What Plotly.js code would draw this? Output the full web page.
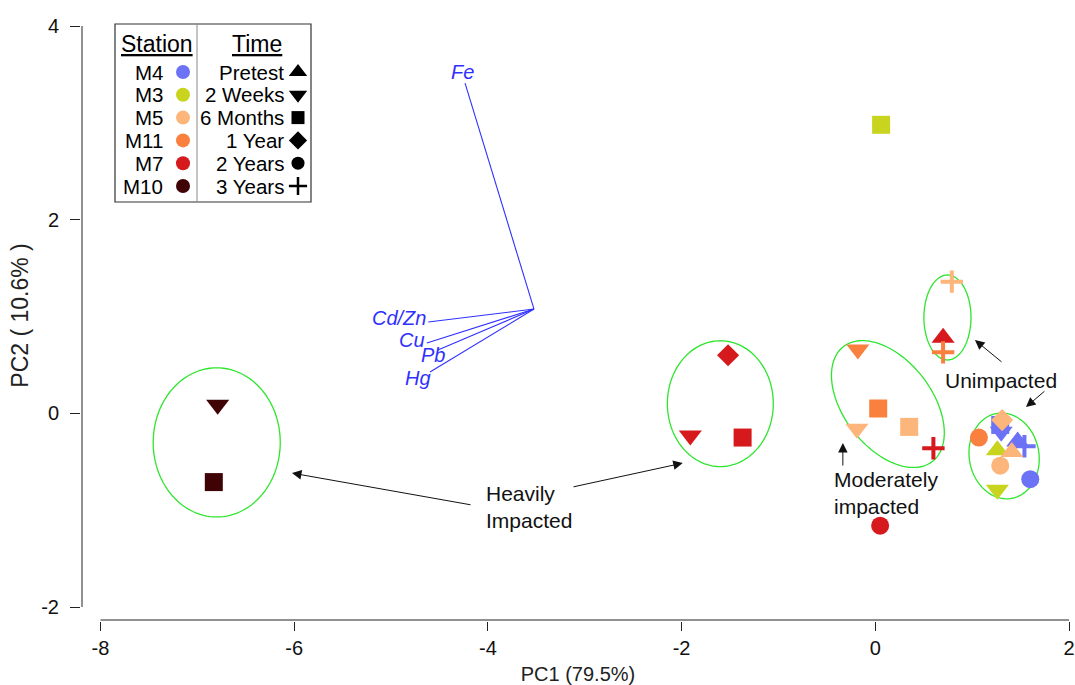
<!DOCTYPE html>
<html><head><meta charset="utf-8">
<script src="https://cdn.plot.ly/plotly-3.0.1.min.js"></script>
<style>html,body{margin:0;padding:0;background:#fff;}#chart{width:1075px;height:685px;}</style>
</head><body><div id="chart"></div>
<script>
// ---------------- data ----------------
const stations = ['M4','M3','M5','M11','M7','M10'];
const stationColors = ['#6b72f5','#c8d41e','#fcb57a','#f9803f','#d6191c','#3f0306'];
const times = ['Pretest','2 Weeks','6 Months','1 Year','2 Years','3 Years'];
const timeSymbols = ['triangle-up','triangle-down','square','diamond','circle','cross-thin'];

const m4Time = ['Pretest','2 Weeks','6 Months','2 Years','3 Years'];
const m4PC1 = [1.47, 1.30, 1.29, 1.60, 1.54];
const m4PC2 = [-0.29, -0.19, -0.12, -0.68, -0.34];

const m3Time = ['Pretest','2 Weeks','6 Months'];
const m3PC1 = [1.26, 1.26, 0.06];
const m3PC2 = [-0.38, -0.79, 2.98];

const m5Time = ['Pretest','2 Weeks','6 Months','1 Year','2 Years','3 Years'];
const m5PC1 = [1.41, -0.19, 0.35, 1.31, 1.29, 0.79];
const m5PC2 = [-0.40, -0.16, -0.14, -0.07, -0.54, 1.36];

const m11Time = ['2 Weeks','6 Months','2 Years','3 Years'];
const m11PC1 = [-0.18, 0.03, 1.07, 0.70];
const m11PC2 = [0.66, 0.05, -0.25, 0.63];

const m7Time = ['Pretest','2 Weeks','6 Months','1 Year','2 Years','3 Years'];
const m7PC1 = [0.70, -1.91, -1.37, -1.52, 0.05, 0.60];
const m7PC2 = [0.78, -0.23, -0.25, 0.60, -1.16, -0.36];

const m10Time = ['2 Weeks','6 Months'];
const m10PC1 = [-6.79, -6.83];
const m10PC2 = [0.09, -0.71];

// biplot loadings (vector end points) and origin
const loadingNames = ['Fe','Cd/Zn','Cu','Pb','Hg'];
const loadingPC1 = [-4.236, -4.615, -4.63, -4.516, -4.598];
const loadingPC2 = [3.41, 0.943, 0.726, 0.654, 0.427];
const biplotOrigin = [-3.524, 1.077];

// group ellipses
const ellipseCx = [-6.80, -1.60, 0.13, 0.745, 1.33];
const ellipseCy = [-0.30, 0.10, 0.096, 0.99, -0.44];
const ellipseRx = [0.656, 0.547, 0.75, 0.243, 0.36];
const ellipseRy = [0.77, 0.65, 0.454, 0.439, 0.445];
const ellipseAng = [0, 0, -52.3, 0, 10];

const xTicks = [-8, -6, -4, -2, 0, 2];
const yTicks = [-2, 0, 2, 4];

// ---------------- build ----------------
const FONT = 'Arial, "Liberation Sans", sans-serif';
const stationData = {
  M4: [m4Time, m4PC1, m4PC2], M3: [m3Time, m3PC1, m3PC2], M5: [m5Time, m5PC1, m5PC2],
  M11: [m11Time, m11PC1, m11PC2], M7: [m7Time, m7PC1, m7PC2], M10: [m10Time, m10PC1, m10PC2]
};
const symSize = {'triangle-up':20,'triangle-down':20,'square':18,'diamond':17,'circle':18,'cross-thin':16};
const drawOrder = ['M4','M3','M5','M7','M11','M10'];

const traces = [];
// biplot vectors
const vx = [], vy = [];
loadingNames.forEach((n, i) => { vx.push(biplotOrigin[0], loadingPC1[i], null); vy.push(biplotOrigin[1], loadingPC2[i], null); });
traces.push({x: vx, y: vy, mode: 'lines', line: {color: '#3030ff', width: 1.1}, hoverinfo: 'skip', showlegend: false});

drawOrder.forEach(st => {
  const [t, px, py] = stationData[st];
  const col = stationColors[stations.indexOf(st)];
  const syms = t.map(v => timeSymbols[times.indexOf(v)]);
  traces.push({
    x: px, y: py, mode: 'markers', name: st, text: t, showlegend: false,
    marker: {symbol: syms, size: syms.map(s => symSize[s]), color: col, opacity: 1,
      line: {color: col, width: syms.map(s => s === 'cross-thin' ? 4 : 0)}}
  });
});

// legend markers (pixel overlay axes)
const rowY = i => 72 + i * 22.8;
const legStY = stations.map((s, i) => rowY(i));
traces.push({x: stations.map(() => 183), y: legStY, xaxis: 'x2', yaxis: 'y2', mode: 'markers', showlegend: false, hoverinfo: 'skip',
  marker: {symbol: 'circle', size: 14, color: stationColors, opacity: 1, line: {width: 0}}});
const legSymSize = {'triangle-up':16,'triangle-down':16,'square':13,'diamond':14,'circle':13,'cross-thin':13};
traces.push({x: times.map(() => 298), y: times.map((t, i) => rowY(i)), xaxis: 'x2', yaxis: 'y2', mode: 'markers', showlegend: false, hoverinfo: 'skip',
  marker: {symbol: timeSymbols, size: timeSymbols.map(s => legSymSize[s]), color: '#000', opacity: 1,
    line: {color: '#000', width: timeSymbols.map(s => s === 'cross-thin' ? 2.5 : 0)}}});

// shapes
function ellipsePath(cx, cy, rx, ry, ang) {
  const a = ang * Math.PI / 180; let d = '';
  for (let k = 0; k <= 120; k++) {
    const t = 2 * Math.PI * k / 120;
    const x = cx + rx * Math.cos(t) * Math.cos(a) - ry * Math.sin(t) * Math.sin(a);
    const y = cy + rx * Math.cos(t) * Math.sin(a) + ry * Math.sin(t) * Math.cos(a);
    d += (k === 0 ? 'M' : 'L') + x.toFixed(4) + ',' + y.toFixed(4);
  }
  return d + 'Z';
}
const shapes = ellipseCx.map((c, i) => ({type: 'path', xref: 'x', yref: 'y', path: ellipsePath(c, ellipseCy[i], ellipseRx[i], ellipseRy[i], ellipseAng[i]),
  line: {color: '#2fe52f', width: 1.3}, layer: 'below'}));
// R-style detached axis lines
shapes.push({type: 'line', xref: 'x', yref: 'paper', x0: xTicks[0], x1: xTicks[xTicks.length - 1], y0: 1 / 611, y1: 1 / 611, line: {color: '#222', width: 1}});
shapes.push({type: 'line', xref: 'paper', yref: 'y', x0: 1 / 994, x1: 1 / 994, y0: yTicks[0], y1: yTicks[yTicks.length - 1], line: {color: '#222', width: 1}});
// legend box
shapes.push({type: 'rect', xref: 'x2', yref: 'y2', x0: 115, x1: 311, y0: 24, y1: 202, line: {color: '#333', width: 1.2}, fillcolor: 'rgba(0,0,0,0)'});
shapes.push({type: 'line', xref: 'x2', yref: 'y2', x0: 197, x1: 197, y0: 24, y1: 202, line: {color: '#888', width: 1}});

// annotations
const ann = [];
// vector labels
const labAnchor = ['center', 'right', 'right', 'center', 'center'];
const labYAnchor = ['bottom', 'middle', 'middle', 'middle', 'middle'];
const labXShift = [-3, 0, 0, -5, -12];
const labYShift = [-2, 4, 3, -5, -6];
loadingNames.forEach((n, i) => ann.push({x: loadingPC1[i], y: loadingPC2[i], xref: 'x', yref: 'y', text: '<i>' + n + '</i>', showarrow: false,
  xanchor: labAnchor[i], yanchor: labYAnchor[i], xshift: labXShift[i], yshift: labYShift[i], font: {family: FONT, size: 20, color: '#3030ff'}}));

// arrows
const arrowHeadX = [-6.023, -1.988, -0.335, 1.029, 1.556];
const arrowHeadY = [-0.617, -0.514, -0.307, 0.757, 0.065];
const arrowTailX = [-4.164, -3.131, -0.335, 1.319, 1.762];
const arrowTailY = [-0.947, -0.762, -0.554, 0.519, 0.241];
arrowHeadX.forEach((x, i) => ann.push({x: x, y: arrowHeadY[i], ax: arrowTailX[i], ay: arrowTailY[i], xref: 'x', yref: 'y', axref: 'x', ayref: 'y',
  text: '', showarrow: true, arrowhead: 2, arrowsize: 1.9, arrowwidth: 1, arrowcolor: '#111'}));

// group text labels
ann.push({x: -4.04, y: -0.963, xref: 'x', yref: 'y', text: 'Heavily<br>Impacted', align: 'left', xanchor: 'left', yanchor: 'middle', showarrow: false, font: {family: FONT, size: 21, color: '#111'}});
ann.push({x: -0.448, y: -0.818, xref: 'x', yref: 'y', text: 'Moderately<br>impacted', align: 'left', xanchor: 'left', yanchor: 'middle', showarrow: false, font: {family: FONT, size: 21, color: '#111'}});
ann.push({x: 0.699, y: 0.344, xref: 'x', yref: 'y', text: 'Unimpacted', align: 'left', xanchor: 'left', yanchor: 'middle', showarrow: false, font: {family: FONT, size: 21, color: '#111'}});

// legend texts
ann.push({x: 157, y: 44, xref: 'x2', yref: 'y2', text: '<u>Station</u>', showarrow: false, xanchor: 'center', yanchor: 'middle', font: {family: FONT, size: 23, color: '#000'}});
ann.push({x: 257, y: 44, xref: 'x2', yref: 'y2', text: '<u>Time</u>', showarrow: false, xanchor: 'center', yanchor: 'middle', font: {family: FONT, size: 23, color: '#000'}});
stations.forEach((s, i) => ann.push({x: 165, y: rowY(i), xref: 'x2', yref: 'y2', text: s, showarrow: false, xanchor: 'right', yanchor: 'middle', font: {family: FONT, size: 20.5, color: '#000'}}));
times.forEach((t, i) => ann.push({x: 286, y: rowY(i), xref: 'x2', yref: 'y2', text: t, showarrow: false, xanchor: 'right', yanchor: 'middle', font: {family: FONT, size: 20.5, color: '#000'}}));

const layout = {
  width: 1075, height: 685,
  margin: {l: 81, r: 0, t: 10, b: 64},
  paper_bgcolor: '#fff', plot_bgcolor: '#fff',
  showlegend: false,
  xaxis: {range: [-8.2013, 2.062], tickvals: xTicks, ticktext: xTicks.map(String), ticks: 'outside', ticklen: 9, tickcolor: '#222', tickwidth: 1,
    showgrid: false, zeroline: false, showline: false, tickfont: {family: FONT, size: 20, color: '#111'}, ticklabelstandoff: 0,
    title: {text: 'PC1 (79.5%)', font: {family: FONT, size: 20, color: '#222'}, standoff: 10}},
  yaxis: {range: [-2.1446, 4.1656], tickvals: yTicks, ticktext: yTicks.map(String), ticks: 'outside', ticklen: 10, tickcolor: '#222', tickwidth: 1,
    showgrid: false, zeroline: false, showline: false, tickfont: {family: FONT, size: 20, color: '#111'}, ticklabelstandoff: 7,
    title: {text: 'PC2 ( 10.6% )', font: {family: FONT, size: 23, color: '#222'}, standoff: 6}},
  xaxis2: {overlaying: 'x', anchor: 'y2', range: [81, 1075], visible: false, fixedrange: true},
  yaxis2: {overlaying: 'y', anchor: 'x2', range: [621, 10], visible: false, fixedrange: true},
  shapes: shapes,
  annotations: ann
};
Plotly.newPlot('chart', traces, layout, {staticPlot: true, displayModeBar: false});
</script></body></html>
